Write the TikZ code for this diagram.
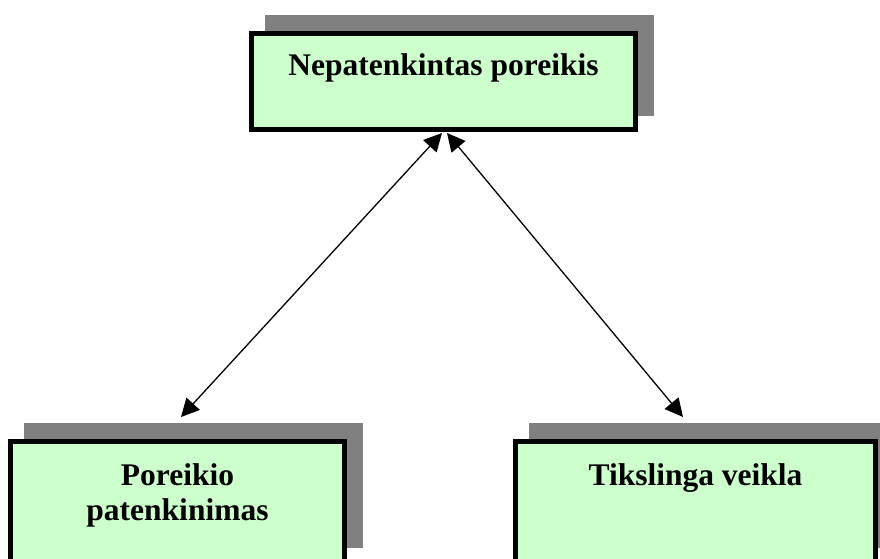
\documentclass[tikz,border=0pt]{standalone}
\usepackage{fontspec}
\setmainfont{Liberation Serif}
\usetikzlibrary{arrows.meta}
\definecolor{boxgreen}{HTML}{CCFFCC}
\definecolor{shadowgray}{HTML}{808080}
\tikzset{
  box/.style={draw=black, line width=5pt, fill=boxgreen, rectangle, inner sep=0pt, outer sep=0pt},
  shadowbox/.style={fill=shadowgray, rectangle, inner sep=0pt, outer sep=0pt},
  lbl/.style={font=\fontsize{31.5}{35}\selectfont\bfseries, align=center, anchor=base, inner sep=0pt},
  link/.style={line width=1.3pt, {Triangle[length=18pt,width=18pt]}-{Triangle[length=18pt,width=18pt]}}
}
\begin{document}
\begin{tikzpicture}[x=1pt,y=-1pt]
\useasboundingbox (0,0) rectangle (880,559);
\clip (0,0) rectangle (880,559);
% shadows
\node[shadowbox, minimum width=389pt, minimum height=101pt] (sTop) at (459.5,65.5) {};
\node[shadowbox, minimum width=339pt, minimum height=125pt] (sLeft) at (193.5,485.5) {};
\node[shadowbox, minimum width=365pt, minimum height=125pt] (sRight) at (711.5,485.5) {};
% boxes
\node[box, minimum width=384pt, minimum height=96pt] (top) at (443.5,81.5) {};
\node[box, minimum width=334pt, minimum height=120pt] (left) at (177.5,501.5) {};
\node[box, minimum width=360pt, minimum height=120pt] (right) at (695.5,501.5) {};
% texts
\node[lbl] (tTop) at (443.5,76) {Nepatenkintas poreikis};
\node[lbl] (tLeft1) at (177.5,485) {Poreikio};
\node[lbl] (tLeft2) at (177.5,520) {patenkinimas};
\node[lbl] (tRight) at (695.5,485) {Tikslinga veikla};
% arrow ends
\coordinate (aTopL) at (442,133);
\coordinate (aTopR) at (447,133);
\coordinate (aLeft) at (181,417);
\coordinate (aRight) at (683,417);
\draw[link] (aTopL) -- (aLeft);
\draw[link] (aTopR) -- (aRight);
\end{tikzpicture}
\end{document}
